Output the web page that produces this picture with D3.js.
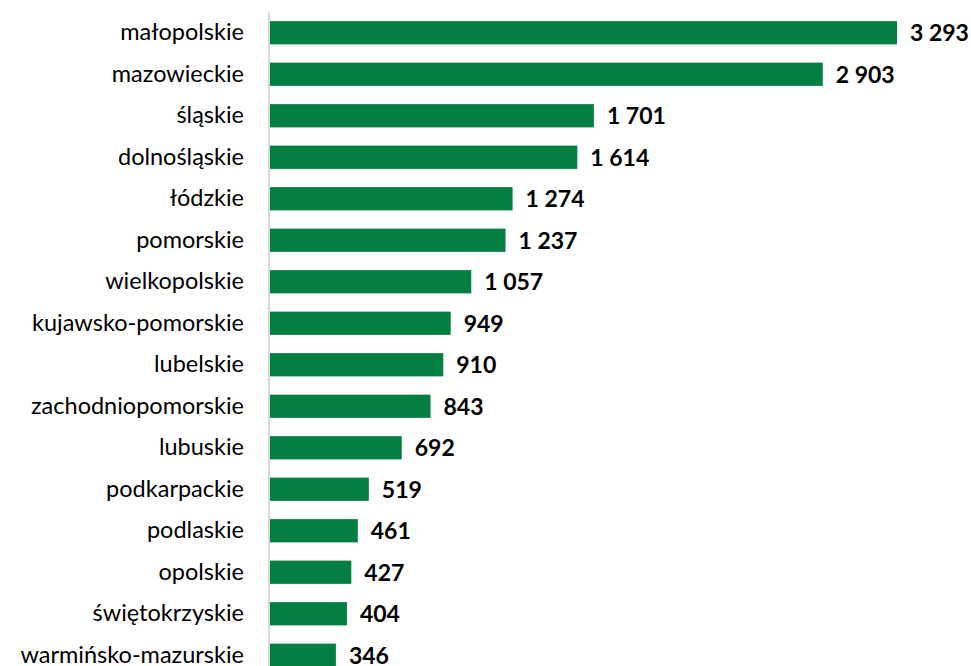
<!DOCTYPE html><html lang="pl"><head><meta charset="utf-8">
<title>Województwa</title>
<script src="https://cdn.jsdelivr.net/npm/d3@7"></script>
<style>
body { margin: 0; background: #fff; }
svg { display: block; }
</style>
</head>
<body>
<div id="chart"></div>
<script>
const regions = ["małopolskie", "mazowieckie", "śląskie", "dolnośląskie", "łódzkie", "pomorskie",
	"wielkopolskie", "kujawsko-pomorskie", "lubelskie", "zachodniopomorskie", "lubuskie",
	"podkarpackie", "podlaskie", "opolskie", "świętokrzyskie", "warmińsko-mazurskie"];
const counts = [3293, 2903, 1701, 1614, 1274, 1237, 1057, 949, 910, 843, 692, 519, 461, 427, 404, 346];

const W = 971, H = 666;
const left = 270;

const svg = d3.select("#chart").append("svg")
	.attr("width", W).attr("height", H);

// scale: 3293 -> ~627px
const x = d3.scaleLinear().domain([0, 3293]).range([0, 627]);
const y = d3.scaleBand().domain(regions).range([12, 12 + 16 * 41.5]).paddingInner(0.44).paddingOuter(0.22);

const g = svg.append("g").attr("transform", `translate(${left},0)`);

g.selectAll("rect").data(regions).join("rect")
	.attr("x", 0)
	.attr("y", d => y(d))
	.attr("width", (d, i) => x(counts[i]))
	.attr("height", y.bandwidth())
	.attr("fill", "#037f41");

// category labels
const yAxis = d3.axisLeft(y).tickSize(0).tickPadding(26);
g.append("g").call(yAxis)
	.call(s => s.select(".domain").remove())
	.selectAll("text")
	.attr("font-family", "Lato, 'Open Sans', sans-serif")
	.attr("font-size", 23.5)
	.attr("fill", "#000");

// axis line
g.append("line")
	.attr("x1", -1).attr("x2", -1)
	.attr("y1", 12).attr("y2", H)
	.attr("stroke", "#d9d9d9").attr("stroke-width", 2);

// value labels
const fmt = v => d3.format(",")(v).replace(/,/g, " ");
g.selectAll(".val").data(regions).join("text")
	.attr("class", "val")
	.attr("x", (d, i) => x(counts[i]) + 13)
	.attr("y", d => y(d) + y.bandwidth() / 2)
	.attr("dy", "0.36em")
	.attr("font-family", "Lato, 'Open Sans', sans-serif")
	.attr("font-weight", "bold")
	.attr("font-size", 23)
	.attr("fill", "#000")
	.text((d, i) => fmt(counts[i]));
</script>
</body>
</html>
